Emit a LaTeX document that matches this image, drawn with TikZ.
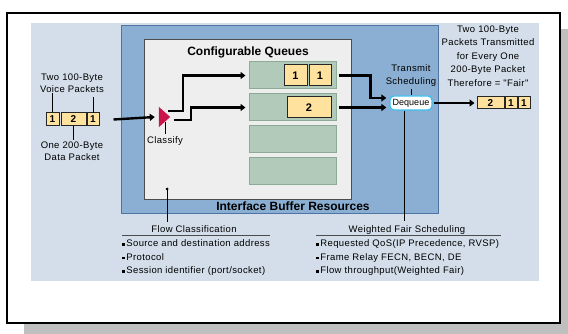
\documentclass[tikz,border=0pt]{standalone}
\usepackage{fontspec}
\setmainfont{Liberation Sans}
\newfontfamily\bodyfont{Liberation Sans}[LetterSpace=4]
\usetikzlibrary{arrows.meta,calc}
\definecolor{panel}{HTML}{D3DEEA}
\definecolor{midblue}{HTML}{8BAFD2}
\definecolor{midedge}{HTML}{4D74A2}
\definecolor{innergray}{HTML}{EEEEEE}
\definecolor{qfill}{HTML}{B2CAB9}
\definecolor{qedge}{HTML}{8CAA95}
\definecolor{pktfill}{HTML}{FFE29E}
\definecolor{clsred}{HTML}{C8164B}
\definecolor{dqedge}{HTML}{3CC0F0}
\definecolor{shadowgray}{HTML}{BFBFBF}
\newcommand{\blt}{\rule[0.6pt]{2.6pt}{2.6pt}\hspace{1.6pt}}
\begin{document}
\begin{tikzpicture}[x=1pt,y=-1pt,
  txt/.style={font=\bodyfont\fontsize{9.5}{12}\selectfont, inner sep=0pt, align=center},
  bul/.style={font=\bodyfont\fontsize{9.5}{12}\selectfont, inner sep=0pt, anchor=base west},
  title/.style={font=\fontsize{12}{14}\bfseries\selectfont, inner sep=0pt},
  queuebox/.style={draw=qedge, fill=qfill, line width=1pt, minimum width=87pt, minimum height=27pt, inner sep=0pt},
  pkt/.style={draw=black!85, fill=pktfill, line width=1pt, minimum height=21pt, inner sep=0pt, font=\fontsize{11}{12}\bfseries\selectfont},
  spkt/.style={draw=black!85, fill=pktfill, line width=1pt, minimum height=13pt, inner sep=0pt, font=\fontsize{10}{12}\bfseries\selectfont},
  flow/.style={line width=2.4pt, -{Triangle[length=5pt,width=7pt]}},
  tick/.style={line width=0.8pt},
  uline/.style={line width=0.9pt, black!70}
]
\useasboundingbox (0,0) rectangle (568,334);
% shadow and frame
\fill[shadowgray] (24,29) rectangle (580,345);
\draw[line width=1.5pt, fill=white] (7,13) rectangle (560,323);
\fill[panel] (31,23) rectangle (539,281);
% interface buffer resources
\node[draw=midedge, fill=midblue, line width=1pt, minimum width=317pt, minimum height=188pt, inner sep=0pt] (ibr) at (279.5,120) {};
\node[draw=black!70, fill=innergray, line width=0.8pt, minimum width=207pt, minimum height=160pt, inner sep=0pt] (inner) at (247.5,119) {};
\node[title] (cqt) at (248,52) {Configurable Queues};
\node[title] (ibrt) at (293,206) {Interface Buffer Resources};
% queues
\node[queuebox] (q1) at (292.5,75.5) {};
\node[queuebox] (q2) at (292.5,107.5) {};
\node[queuebox] (q3) at (292.5,139.5) {};
\node[queuebox] (q4) at (292.5,171.5) {};
\node[pkt, minimum width=23pt] (p1a) at (295.5,75.5) {1};
\node[pkt, minimum width=22pt] (p1b) at (320,75.5) {1};
\node[pkt, minimum width=44pt] (p2) at (309,107.5) {2};
% input packets
\node[spkt, minimum width=13pt] (lp1) at (52.5,119.5) {1};
\node[spkt, minimum width=25pt] (lp2) at (73.5,119.5) {2};
\node[spkt, minimum width=12pt] (lp3) at (93,119.5) {1};
\node[txt] (tv) at (72,83) {Two 100-Byte\\Voice Packets};
\node[txt] (od) at (72,151.5) {One 200-Byte\\Data Packet};
\draw[tick] (lp1.north) -- (lp1.north |- tv.south);
\draw[tick] ([yshift=-1pt]lp3.north) -- ([yshift=-4pt]lp3.north |- tv.south);
\draw[tick] (lp2.south) -- ([yshift=2pt]lp2.south |- od.north);
% classify
\node[minimum width=11pt, minimum height=20pt, inner sep=0pt] (cls) at (164.5,117) {};
\fill[clsred] (cls.north west) -- (cls.east) -- (cls.south west) -- cycle;
\node[txt] (clsl) at (165,141) {Classify};
\draw[tick] ([yshift=2pt]clsl.north) -- ++(0,-12);
\draw[flow] ([xshift=14pt]lp3.east) -- ([xshift=-4pt]cls.west);
\draw[flow] ([xshift=-2pt,yshift=6pt]cls.east) -- ++(15,0) |- ([xshift=-3pt]q1.west);
\draw[flow] ([xshift=4pt,yshift=-3pt]cls.east) -- ++(17,0) |- ([xshift=-3pt]q2.west);
% dequeue
\node[draw=dqedge, fill=white, line width=1.3pt, rounded corners=4pt, minimum width=42pt, minimum height=14pt, inner sep=0pt, font=\fontsize{9}{10}\selectfont] (dq) at (411,103) {Dequeue};
\node[txt, font=\bodyfont\fontsize{9.5}{13}\selectfont] (ts) at (411,75.5) {Transmit\\Scheduling};
\draw[tick] ([yshift=-2pt]ts.south) -- (dq.north);
\draw[flow] ([xshift=2pt]q1.east) -| ([xshift=-19pt,yshift=5pt]dq.west) -- ([xshift=-3pt,yshift=5pt]dq.west);
\draw[flow] ([xshift=2pt]q2.east) -- ($(q2.east -| dq.west)+(-3,0)$);
% output
\node[spkt, minimum width=27pt, minimum height=12pt] (op2) at (490.5,103) {2};
\node[spkt, minimum width=12pt, minimum height=12pt] (op1a) at (511,103) {1};
\node[spkt, minimum width=12pt, minimum height=12pt] (op1b) at (524,103) {1};
\draw[flow] ([xshift=1pt]dq.east) -- ([xshift=-2pt]op2.west);
\node[txt, font=\bodyfont\fontsize{9.5}{13.5}\selectfont] (outl) at (488,56) {Two 100-Byte\\Packets Transmitted\\for Every One\\200-Byte Packet\\Therefore = "Fair"};
% flow classification
\fill (167,189) circle (1.5pt);
\coordinate (fcd) at (167,189);
\node[txt, anchor=base] (fc) at (194,233) {Flow Classification};
\draw[tick] (fcd) -- ([yshift=4pt]fcd |- fc.north);
\draw[uline] (122,235.5) -- (270,235.5);
\node[bul] (b1) at (122,246.5) {\blt Source and destination address};
\node[bul] (b2) at (122,260) {\blt Protocol};
\node[bul] (b3) at (122,273.5) {\blt Session identifier (port/socket)};
% weighted fair scheduling
\node[txt, anchor=base] (wfs) at (407,233) {Weighted Fair Scheduling};
\draw[tick] ([xshift=-7pt]dq.south) -- ([xshift=-7pt,yshift=5pt]dq.south |- wfs.north);
\draw[uline] (316,235.5) -- (501,235.5);
\node[bul] (w1) at (316,246.5) {\blt Requested QoS(IP Precedence, RVSP)};
\node[bul] (w2) at (316,260) {\blt Frame Relay FECN, BECN, DE};
\node[bul] (w3) at (316,273.5) {\blt Flow throughput(Weighted Fair)};
\end{tikzpicture}
\end{document}
